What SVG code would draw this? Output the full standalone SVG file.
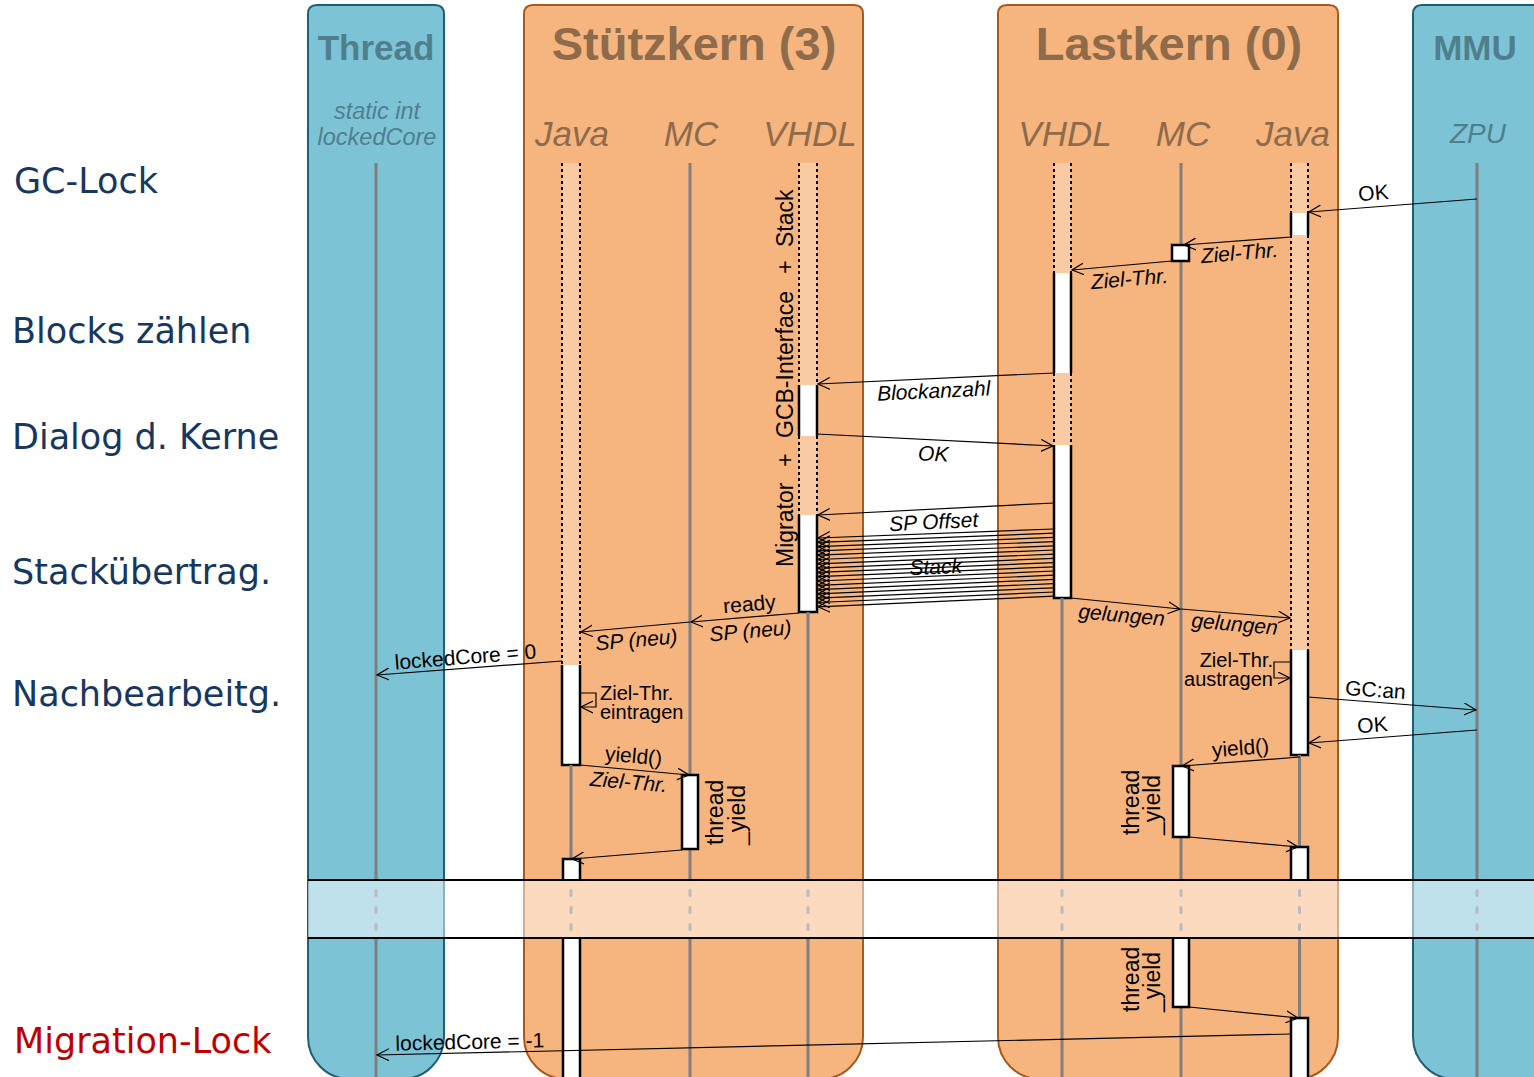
<svg xmlns="http://www.w3.org/2000/svg" width="1534" height="1077" viewBox="0 0 1534 1077">
<style>
.lane-b{fill:#7DC3D6;stroke:#1D5F78;stroke-width:2}
.lane-o{fill:#F6B47E;stroke:#A9591A;stroke-width:2}
.life{stroke:#7F7F7F;stroke-width:3}
.lifeb{stroke:#BBBBBB;stroke-width:3;stroke-dasharray:5 12;stroke-linecap:round}
.inact{fill:#F9CBA4}
.dot{stroke:#000;stroke-width:2;stroke-dasharray:3 3}
.act{fill:#fff;stroke:#000;stroke-width:2.5}
.msg{stroke:#000;stroke-width:1.2;fill:none;marker-end:url(#arr)}
.lbl{font-family:"Liberation Sans",Arial,sans-serif;font-size:21px;fill:#000}
.sm{font-size:20px}
.it{font-style:italic}
.c{text-anchor:middle}
.hb{font-family:"Liberation Sans",Arial,sans-serif;font-weight:bold;text-anchor:middle}
.hi{font-family:"Liberation Sans",Arial,sans-serif;font-style:italic;text-anchor:middle}
.blue{fill:#4F7F8D}
.brown{fill:#8E6B4B}
.phase{font-family:"DejaVu Sans",Verdana,sans-serif;font-size:35px;fill:#17375E}
.rot{font-family:"Liberation Sans",Arial,sans-serif;font-size:23px;fill:#000}
</style>
<defs>
<marker id="arr" markerUnits="userSpaceOnUse" markerWidth="14" markerHeight="14" refX="12" refY="6.5" orient="auto">
<path d="M0,0.5 L12,6.5 L0,12.5" fill="none" stroke="#000" stroke-width="1.2"/>
</marker>
</defs>
<rect width="1534" height="1077" fill="#fff"/>

<g id="phases">
<text class="phase" x="14" y="193">GC-Lock</text>
<text class="phase" x="12" y="343">Blocks zählen</text>
<text class="phase" x="12" y="449">Dialog d. Kerne</text>
<text class="phase" x="12" y="584">Stackübertrag.</text>
<text class="phase" x="12" y="706">Nachbearbeitg.</text>
<text class="phase" x="14" y="1053" style="fill:#C00000">Migration-Lock</text>
</g>

<g id="thread">
<path class="lane-b" d="M308,14 Q308,5 317,5 L435,5 Q444,5 444,14 L444,1037 A42,42 0 0 1 402,1079 L350,1079 A42,42 0 0 1 308,1037 Z"/>
<text class="hb blue" x="376" y="60" font-size="35">Thread</text>
<text class="hi blue" x="377" y="119" font-size="23.5">static int</text>
<text class="hi blue" x="377" y="145" font-size="23.5">lockedCore</text>
<line class="life" x1="376" y1="163" x2="376" y2="880"/>
<line class="life" x1="376" y1="938" x2="376" y2="1077"/>
</g>

<g id="stuetzkern">
<path class="lane-o" d="M524,14 Q524,5 533,5 L854,5 Q863,5 863,14 L863,1037 A42,42 0 0 1 821,1079 L566,1079 A42,42 0 0 1 524,1037 Z"/>
<text class="hb brown" x="694" y="60" font-size="47">Stützkern (3)</text>
<text class="hi brown" x="572" y="146" font-size="35">Java</text>
<text class="hi brown" x="691" y="146" font-size="35">MC</text>
<text class="hi brown" x="810" y="146" font-size="35">VHDL</text>
<!-- Java -->
<rect class="inact" x="562" y="163" width="18" height="502"/>
<line class="dot" x1="562" y1="163" x2="562" y2="665"/>
<line class="dot" x1="580" y1="163" x2="580" y2="665"/>
<path class="act" d="M562,665 V765 H580 V665"/>
<line class="life" x1="571" y1="765" x2="571" y2="859"/>
<path class="act" d="M563,880 V859 H580 V880"/>
<rect x="563" y="938" width="17" height="142" fill="#fff"/>
<line x1="563" y1="938" x2="563" y2="1077" stroke="#000" stroke-width="2.5"/>
<line x1="580" y1="938" x2="580" y2="1077" stroke="#000" stroke-width="2.5"/>
<!-- MC -->
<line class="life" x1="690" y1="163" x2="690" y2="880"/>
<line class="life" x1="690" y1="938" x2="690" y2="1077"/>
<rect class="act" x="682" y="775" width="16" height="74"/>
<!-- VHDL -->
<rect class="inact" x="799" y="163" width="18" height="449"/>
<line class="dot" x1="799" y1="163" x2="799" y2="385"/>
<line class="dot" x1="817" y1="163" x2="817" y2="385"/>
<rect x="799" y="385" width="18" height="51" fill="#fff"/>
<line x1="799" y1="385" x2="799" y2="436" stroke="#000" stroke-width="2.5"/>
<line x1="817" y1="385" x2="817" y2="436" stroke="#000" stroke-width="2.5"/>
<line class="dot" x1="799" y1="436" x2="799" y2="515"/>
<line class="dot" x1="817" y1="436" x2="817" y2="515"/>
<path class="act" d="M799,515 V612 H817 V515"/>
<line class="life" x1="808" y1="612" x2="808" y2="880"/>
<line class="life" x1="808" y1="938" x2="808" y2="1077"/>
<text class="rot" transform="translate(793,567) rotate(-90)">Migrator</text>
<text class="rot" transform="translate(793,460) rotate(-90)" text-anchor="middle">+</text>
<text class="rot" transform="translate(793,438) rotate(-90)">GCB-Interface</text>
<text class="rot" transform="translate(793,267) rotate(-90)" text-anchor="middle">+</text>
<text class="rot" transform="translate(793,247) rotate(-90)">Stack</text>
<text class="rot" transform="translate(723,845) rotate(-90)">thread</text>
<text class="rot" transform="translate(745,845) rotate(-90)">_yield</text>
</g>

<g id="lastkern">
<path class="lane-o" d="M998,14 Q998,5 1007,5 L1329,5 Q1338,5 1338,14 L1338,1037 A42,42 0 0 1 1296,1079 L1040,1079 A42,42 0 0 1 998,1037 Z"/>
<text class="hb brown" x="1169" y="60" font-size="47">Lastkern (0)</text>
<text class="hi brown" x="1065" y="146" font-size="35">VHDL</text>
<text class="hi brown" x="1183" y="146" font-size="35">MC</text>
<text class="hi brown" x="1293" y="146" font-size="35">Java</text>
<!-- VHDL -->
<rect class="inact" x="1054" y="163" width="17" height="435"/>
<line class="dot" x1="1054" y1="163" x2="1054" y2="273"/>
<line class="dot" x1="1071" y1="163" x2="1071" y2="273"/>
<rect x="1054" y="273" width="17" height="100" fill="#fff"/>
<line x1="1054" y1="273" x2="1054" y2="373" stroke="#000" stroke-width="2.5"/>
<line x1="1071" y1="273" x2="1071" y2="373" stroke="#000" stroke-width="2.5"/>
<line class="dot" x1="1054" y1="373" x2="1054" y2="445"/>
<line class="dot" x1="1071" y1="373" x2="1071" y2="445"/>
<path class="act" d="M1054,445 V598 H1071 V445"/>
<line class="life" x1="1062" y1="598" x2="1062" y2="880"/>
<line class="life" x1="1062" y1="938" x2="1062" y2="1077"/>
<!-- MC -->
<line class="life" x1="1181" y1="163" x2="1181" y2="880"/>
<line class="life" x1="1181" y1="938" x2="1181" y2="1077"/>
<rect class="act" x="1172" y="245" width="17" height="16"/>
<rect class="act" x="1173" y="766" width="16" height="71"/>
<path class="act" d="M1173,938 V1007 H1189 V938"/>
<!-- Java -->
<rect class="inact" x="1291" y="163" width="17" height="487"/>
<line class="dot" x1="1291" y1="163" x2="1291" y2="213"/>
<line class="dot" x1="1308" y1="163" x2="1308" y2="213"/>
<rect x="1291" y="213" width="17" height="22" fill="#fff"/>
<line x1="1291" y1="213" x2="1291" y2="235" stroke="#000" stroke-width="2.5"/>
<line x1="1308" y1="213" x2="1308" y2="235" stroke="#000" stroke-width="2.5"/>
<line class="dot" x1="1291" y1="235" x2="1291" y2="650"/>
<line class="dot" x1="1308" y1="235" x2="1308" y2="650"/>
<path class="act" d="M1291,650 V755 H1308 V650"/>
<line class="life" x1="1299.5" y1="755" x2="1299.5" y2="847"/>
<path class="act" d="M1291,880 V847 H1308 V880"/>
<line class="life" x1="1299.5" y1="938" x2="1299.5" y2="1018"/>
<path class="act" d="M1291,1080 V1018 H1308 V1080"/>
<text class="rot" transform="translate(1139,835) rotate(-90)">thread</text>
<text class="rot" transform="translate(1160,835) rotate(-90)">_yield</text>
<text class="rot" transform="translate(1139,1012) rotate(-90)">thread</text>
<text class="rot" transform="translate(1160,1012) rotate(-90)">_yield</text>
</g>

<g id="mmu">
<path class="lane-b" d="M1413,14 Q1413,5 1422,5 L1560,5 L1560,1079 L1455,1079 A42,42 0 0 1 1413,1037 Z"/>
<text class="hb blue" x="1475" y="60" font-size="35">MMU</text>
<text class="hi blue" x="1478" y="143" font-size="28">ZPU</text>
<line class="life" x1="1477" y1="163" x2="1477" y2="880"/>
<line class="life" x1="1477" y1="938" x2="1477" y2="1077"/>
</g>

<g id="connectors">
<line class="msg" x1="1477" y1="199" x2="1309" y2="212"/>
<text class="lbl c" x="1374" y="200" transform="rotate(-4.5 1374 200)">OK</text>
<line class="msg" x1="1291" y1="237" x2="1184" y2="245"/>
<text class="lbl it c" x="1240" y="260" transform="rotate(-5 1240 260)">Ziel-Thr.</text>
<line class="msg" x1="1172" y1="261" x2="1072" y2="270"/>
<text class="lbl it c" x="1130" y="286" transform="rotate(-5 1130 286)">Ziel-Thr.</text>

<line class="msg" x1="1054" y1="373" x2="818" y2="384"/>
<text class="lbl it c" x="934" y="398" transform="rotate(-2.7 934 398)">Blockanzahl</text>
<line class="msg" x1="817" y1="434" x2="1053" y2="446"/>
<text class="lbl it c" x="933" y="461" transform="rotate(2.4 933 461)">OK</text>
<line class="msg" x1="1054" y1="503" x2="818" y2="515"/>
<text class="lbl it c" x="934" y="529" transform="rotate(-3 934 529)">SP Offset</text>
<g id="stack-lines">
<line class="msg" x1="1054" y1="529" x2="818" y2="538"/>
<line class="msg" x1="1054" y1="533.2" x2="818" y2="542.3"/>
<line class="msg" x1="1054" y1="537.4" x2="818" y2="546.6"/>
<line class="msg" x1="1054" y1="541.6" x2="818" y2="550.9"/>
<line class="msg" x1="1054" y1="545.8" x2="818" y2="555.2"/>
<line class="msg" x1="1054" y1="550" x2="818" y2="559.5"/>
<line class="msg" x1="1054" y1="554.2" x2="818" y2="563.8"/>
<line class="msg" x1="1054" y1="558.4" x2="818" y2="568.1"/>
<line class="msg" x1="1054" y1="562.6" x2="818" y2="572.4"/>
<line class="msg" x1="1054" y1="566.8" x2="818" y2="576.7"/>
<line class="msg" x1="1054" y1="571" x2="818" y2="581"/>
<line class="msg" x1="1054" y1="575.2" x2="818" y2="585.3"/>
<line class="msg" x1="1054" y1="579.4" x2="818" y2="589.6"/>
<line class="msg" x1="1054" y1="583.6" x2="818" y2="593.9"/>
<line class="msg" x1="1054" y1="587.8" x2="818" y2="598.2"/>
<line class="msg" x1="1054" y1="592" x2="818" y2="602.5"/>
<line class="msg" x1="1054" y1="596.2" x2="818" y2="606.8"/>
</g>
<text class="lbl it c" x="936" y="574" transform="rotate(-2.3 936 574)">Stack</text>

<line class="msg" x1="799" y1="613" x2="691" y2="622"/>
<text class="lbl c" x="750" y="611" transform="rotate(-5 750 611)">ready</text>
<text class="lbl it c" x="751" y="638" transform="rotate(-5 751 638)">SP (neu)</text>
<line class="msg" x1="690" y1="622" x2="581" y2="632"/>
<text class="lbl it c" x="637" y="647" transform="rotate(-5 637 647)">SP (neu)</text>

<line class="msg" x1="562" y1="661" x2="377" y2="675"/>
<text class="lbl c" x="466" y="664" transform="rotate(-4.5 466 664)">lockedCore = 0</text>

<path class="msg" d="M580,693 H596 V707 H581"/>
<text class="lbl sm" x="600" y="700">Ziel-Thr.</text>
<text class="lbl sm" x="600" y="719">eintragen</text>

<line class="msg" x1="580" y1="765" x2="689" y2="775"/>
<text class="lbl c" x="633" y="763" transform="rotate(5 633 763)">yield()</text>
<text class="lbl it c" x="628" y="789" transform="rotate(5 628 789)">Ziel-Thr.</text>
<line class="msg" x1="682" y1="850" x2="572" y2="859"/>

<line class="msg" x1="1071" y1="598" x2="1180" y2="609"/>
<text class="lbl it c" x="1121" y="622" transform="rotate(5 1121 622)">gelungen</text>
<line class="msg" x1="1181" y1="609" x2="1290" y2="618"/>
<text class="lbl it c" x="1234" y="631" transform="rotate(5 1234 631)">gelungen</text>

<path class="msg" d="M1291,662 H1274 V678 H1290"/>
<text class="lbl sm" x="1273" y="667" text-anchor="end">Ziel-Thr.</text>
<text class="lbl sm" x="1273" y="686" text-anchor="end">austragen</text>

<line class="msg" x1="1308" y1="697" x2="1476" y2="710"/>
<text class="lbl c" x="1375" y="697" transform="rotate(4 1375 697)">GC:an</text>
<line class="msg" x1="1477" y1="730" x2="1309" y2="743"/>
<text class="lbl c" x="1373" y="732" transform="rotate(-4.4 1373 732)">OK</text>
<line class="msg" x1="1300" y1="757" x2="1182" y2="766"/>
<text class="lbl c" x="1241" y="755" transform="rotate(-4.5 1241 755)">yield()</text>
<line class="msg" x1="1189" y1="837" x2="1298" y2="847"/>

<line class="msg" x1="1189" y1="1007" x2="1298" y2="1018"/>
<line class="msg" x1="1291" y1="1034" x2="377" y2="1055"/>
<text class="lbl c" x="470" y="1049" transform="rotate(-1.3 470 1049)">lockedCore = -1</text>
</g>

<g id="break">
<rect x="308" y="880" width="1226" height="58" fill="#fff" fill-opacity="0.5"/>
<line x1="308" y1="880" x2="1534" y2="880" stroke="#000" stroke-width="2"/>
<line x1="308" y1="938" x2="1534" y2="938" stroke="#000" stroke-width="2"/>
<line class="lifeb" x1="376" y1="890.5" x2="376" y2="930"/>
<line class="lifeb" x1="571" y1="890.5" x2="571" y2="930"/>
<line class="lifeb" x1="690" y1="890.5" x2="690" y2="930"/>
<line class="lifeb" x1="808" y1="890.5" x2="808" y2="930"/>
<line class="lifeb" x1="1062" y1="890.5" x2="1062" y2="930"/>
<line class="lifeb" x1="1181" y1="890.5" x2="1181" y2="930"/>
<line class="lifeb" x1="1299.5" y1="890.5" x2="1299.5" y2="930"/>
<line class="lifeb" x1="1477" y1="890.5" x2="1477" y2="930"/>
</g>
</svg>
